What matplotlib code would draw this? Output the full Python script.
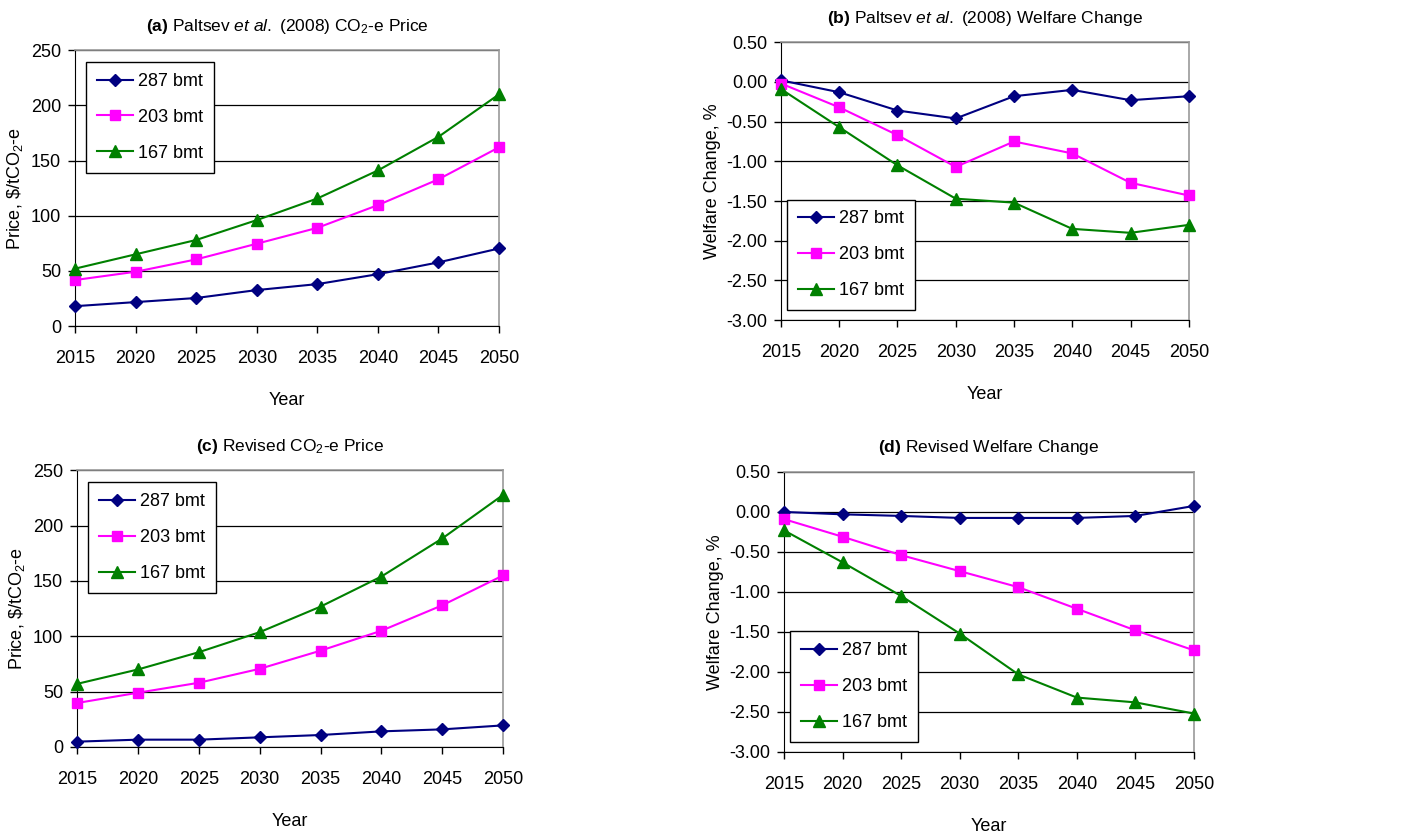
import matplotlib
matplotlib.use('Agg')
import matplotlib.pyplot as plt
from matplotlib import font_manager

# narrow face looks closer to the squeezed Arial in the original; fall back if missing
try:
    font_manager.findfont('Liberation Sans Narrow', fallback_to_default=False)
    base = 'Liberation Sans Narrow'
except Exception:
    base = 'Liberation Sans'

plt.rcParams['font.family'] = [base, 'DejaVu Sans']
plt.rcParams['mathtext.fontset'] = 'custom'
plt.rcParams['mathtext.rm'] = base
plt.rcParams['mathtext.it'] = base + ':italic'
plt.rcParams['mathtext.bf'] = base + ':bold'
plt.rcParams['axes.unicode_minus'] = False

years = [2015, 2020, 2025, 2030, 2035, 2040, 2045, 2050]
series_names = ['287 bmt', '203 bmt', '167 bmt']

# (a) Paltsev et al. (2008) price
price_old_287 = [18, 21.7, 25.4, 32.6, 38, 47, 57.7, 70.3]
price_old_203 = [41.7, 49.2, 60.4, 74.6, 89, 109.6, 133, 162]
price_old_167 = [52, 65, 78, 96, 115.6, 141, 171.5, 210]

# (b) Paltsev et al. (2008) welfare
welf_old_287 = [0.02, -0.13, -0.36, -0.46, -0.18, -0.10, -0.23, -0.18]
welf_old_203 = [-0.02, -0.32, -0.67, -1.07, -0.75, -0.90, -1.27, -1.43]
welf_old_167 = [-0.09, -0.57, -1.05, -1.47, -1.52, -1.85, -1.90, -1.80]

# (c) revised price
price_new_287 = [4.8, 6.6, 6.6, 8.7, 10.8, 14.1, 15.9, 19.5]
price_new_203 = [39.7, 49, 58, 70.6, 87, 105, 128, 155]
price_new_167 = [57, 70, 85.6, 103.7, 126.8, 154, 188.4, 227.8]

# (d) revised welfare
welf_new_287 = [0.0, -0.03, -0.05, -0.075, -0.075, -0.075, -0.05, 0.075]
welf_new_203 = [-0.09, -0.31, -0.54, -0.74, -0.94, -1.21, -1.48, -1.73]
welf_new_167 = [-0.23, -0.63, -1.05, -1.52, -2.03, -2.32, -2.38, -2.52]

welfare_ticks = [0.5, 0.0, -0.5, -1.0, -1.5, -2.0, -2.5, -3.0]

colors = ['#000080', '#FF00FF', '#008000']
markers = ['D', 's', '^']
msizes = [6.5, 7, 8]

fs = 14 if base.endswith('Narrow') else 13

fig = plt.figure(figsize=(14.11, 8.36), dpi=100)

panels = [
    ([0.0532, 0.610, 0.3005, 0.330], r'$\mathbf{(a)}$ Paltsev $\mathit{et\ al.}$ (2008) CO$_2$-e Price',
     [price_old_287, price_old_203, price_old_167], 'price', ('upper left', (0.026, 0.957))),
    ([0.5535, 0.617, 0.289, 0.3325], r'$\mathbf{(b)}$ Paltsev $\mathit{et\ al.}$ (2008) Welfare Change',
     [welf_old_287, welf_old_203, welf_old_167], 'welfare', ('lower left', (0.015, 0.036))),
    ([0.0546, 0.1065, 0.302, 0.331], r'$\mathbf{(c)}$ Revised CO$_2$-e Price',
     [price_new_287, price_new_203, price_new_167], 'price', ('upper left', (0.026, 0.957))),
    ([0.5556, 0.1005, 0.2906, 0.335], r'$\mathbf{(d)}$ Revised Welfare Change',
     [welf_new_287, welf_new_203, welf_new_167], 'welfare', ('lower left', (0.015, 0.036))),
]

for rect, title, data, kind, (loc, anchor) in panels:
    ax = fig.add_axes(rect)
    for vals, name, c, m, ms in zip(data, series_names, colors, markers, msizes):
        ax.plot(years, vals, color=c, marker=m, markersize=ms, lw=1.5,
                markeredgecolor=c, label=name, clip_on=False, zorder=3)
    ax.set_xlim(2015, 2050)
    ax.set_xticks(years)
    if kind == 'price':
        ax.set_ylim(0, 250)
        ax.set_yticks(range(0, 251, 50))
        ax.set_ylabel(r'Price, \$/tCO$_2$-e', fontsize=fs, labelpad=4)
    else:
        ax.set_ylim(-3.0, 0.5)
        ax.set_yticks(welfare_ticks)
        ax.set_yticklabels(['%.2f' % v for v in welfare_ticks])
        ax.set_ylabel('Welfare Change, %', fontsize=fs, labelpad=4)
    ax.yaxis.grid(True, color='black', lw=0.9)
    ax.set_axisbelow(True)
    ax.tick_params(axis='both', direction='out', length=5, width=1, labelsize=fs, pad=5)
    ax.tick_params(axis='x', pad=12)
    for s in ['top', 'right']:
        ax.spines[s].set_color('#999999')
        ax.spines[s].set_linewidth(1.2)
    for s in ['left', 'bottom']:
        ax.spines[s].set_color('black')
    ax.set_xlabel('Year', fontsize=fs, labelpad=18)
    ax.set_title(title, fontsize=fs - 0.5, pad=14)
    leg = ax.legend(loc=loc, bbox_to_anchor=anchor, fontsize=fs, frameon=True,
                    fancybox=False, edgecolor='black', framealpha=1,
                    handlelength=2.0, labelspacing=1.05, borderpad=0.6,
                    handletextpad=0.25, borderaxespad=0)
    leg.get_frame().set_linewidth(1.0)
    leg.set_zorder(5)

fig.savefig('out.png', dpi=100)
